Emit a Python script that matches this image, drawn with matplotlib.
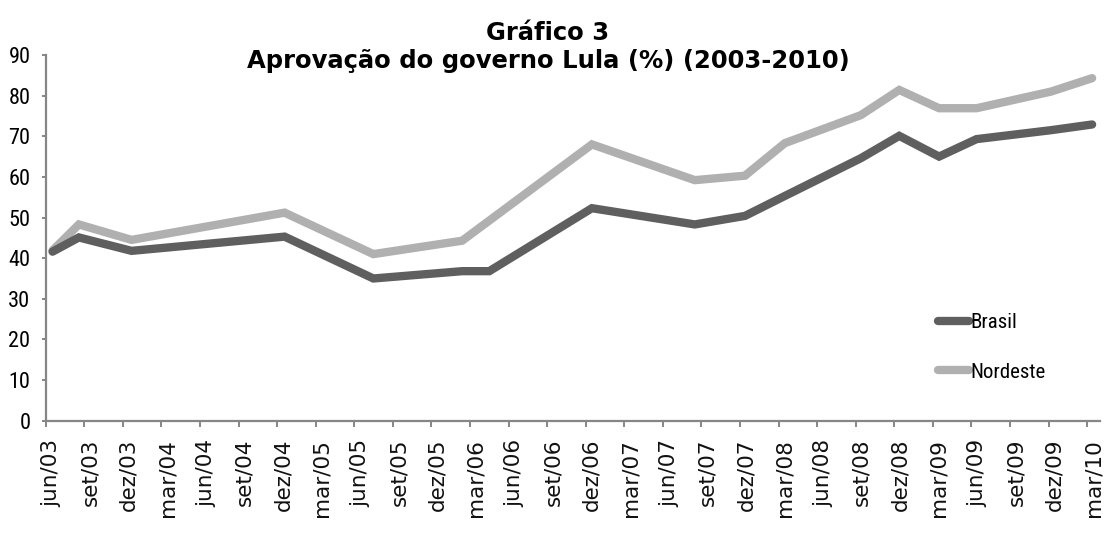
import os
import calendar
import numpy as np
import matplotlib
matplotlib.use("Agg")
import matplotlib.pyplot as plt
from matplotlib import font_manager
from matplotlib.font_manager import FontProperties
from matplotlib.transforms import ScaledTranslation

# ---- data ----
survey_dates = ["2003-06-17", "2003-08-19", "2003-12-22", "2004-12-19", "2005-07-16",
                "2006-02-12", "2006-04-16", "2006-12-16", "2007-08-16", "2007-12-13",
                "2008-03-16", "2008-09-13", "2008-12-13", "2009-03-16", "2009-06-13",
                "2009-12-07", "2010-03-13"]
brasil = [41.6, 45.1, 41.8, 45.3, 35.0, 36.8, 36.8, 52.3, 48.3, 50.4,
          55.3, 64.6, 70.1, 65.0, 69.3, 71.5, 72.9]
nordeste = [41.9, 48.3, 44.5, 51.2, 41.0, 44.3, np.nan, 68.0, 59.2, 60.3,
            68.3, 75.2, 81.4, 76.9, 76.9, 81.0, 84.3]
tick_labels = ["jun/03", "set/03", "dez/03", "mar/04", "jun/04", "set/04", "dez/04",
               "mar/05", "jun/05", "set/05", "dez/05", "mar/06", "jun/06", "set/06",
               "dez/06", "mar/07", "jun/07", "set/07", "dez/07", "mar/08", "jun/08",
               "set/08", "dez/08", "mar/09", "jun/09", "set/09", "dez/09", "mar/10"]
series_names = ["Brasil", "Nordeste"]
title_lines = ["Gráfico 3", "Aprovação do governo Lula (%) (2003-2010)"]


def month_pos(s, y0=2003, m0=6):
    y, m, d = map(int, s.split("-"))
    nd = calendar.monthrange(y, m)[1]
    return (y - y0) * 12 + (m - m0) + (d - 1) / nd


available = {f.name for f in font_manager.fontManager.ttflist}
narrow_candidates = ["Liberation Sans Narrow", "Roboto Condensed",
                     "Open Sans Condensed", "Noto Sans Condensed", "Liberation Sans"]
narrow = next((c for c in narrow_candidates if c in available), "DejaVu Sans")

fp_y = FontProperties(family=[narrow, "DejaVu Sans"], size=16, stretch="condensed")
fp_leg = FontProperties(family=[narrow, "DejaVu Sans"], size=15, stretch="condensed")
dejavu_regular = os.path.join(matplotlib.get_data_path(), "fonts", "ttf", "DejaVuSans.ttf")
fp_x = FontProperties(fname=dejavu_regular, size=15.5)
dejavu_bold = os.path.join(matplotlib.get_data_path(), "fonts", "ttf", "DejaVuSans-Bold.ttf")
fp_title = FontProperties(fname=dejavu_bold, size=17.5)

x = np.array([month_pos(s) for s in survey_dates])
b = np.array(brasil, dtype=float)
n = np.array(nordeste, dtype=float)

fig = plt.figure(figsize=(11.05, 5.35), dpi=100)
ax = fig.add_axes([45.7 / 1105, (535 - 420.7) / 535, (1100 - 45.7) / 1105, 365.7 / 535])

lw = 6.0
ax.plot(x, b, color="#5f5f5f", lw=lw, solid_capstyle="round", solid_joinstyle="miter",
        label=series_names[0], zorder=3)
mask = ~np.isnan(n)
ax.plot(x[mask], n[mask], color="#b0b0b0", lw=lw, solid_capstyle="round",
        solid_joinstyle="miter", label=series_names[1], zorder=2)

ax.set_xlim(0, len(tick_labels) * 3 - 2)
ax.set_ylim(0, 90)
ax.set_yticks(np.arange(0, 91, 10))
ticks = np.arange(len(tick_labels)) * 3
ax.set_xticks(ticks)
ax.set_xticklabels(tick_labels, rotation=90, va="top", ha="center", color="#111111",
                   fontproperties=fp_x)
ax.set_yticklabels([str(v) for v in range(0, 91, 10)], fontproperties=fp_y)

for s in ["top", "right"]:
    ax.spines[s].set_visible(False)
for s in ["left", "bottom"]:
    ax.spines[s].set_color("#868686")
    ax.spines[s].set_linewidth(1.6)
ax.tick_params(axis="y", direction="out", length=3, width=1.4, color="#868686", pad=8)
ax.tick_params(axis="x", direction="out", length=4, width=1.4, color="#868686", pad=9)

# shift x labels slightly right like the reference
off = ScaledTranslation(6 / 100, 0, fig.dpi_scale_trans)
for lab in ax.get_xticklabels():
    lab.set_transform(lab.get_transform() + off)

leg = ax.legend(loc="upper left", bbox_to_anchor=(930 / 1105, (535 - 305) / 535),
                bbox_transform=fig.transFigure, frameon=False, handlelength=1.45,
                handletextpad=0.1, labelspacing=1.45, borderaxespad=0, prop=fp_leg)
for h in leg.get_lines():
    h.set_solid_capstyle("round")

fig.text(548 / 1105, (535 - 33) / 535, title_lines[0], ha="center", va="center",
         fontproperties=fp_title)
fig.text(548 / 1105, (535 - 61) / 535, title_lines[1], ha="center", va="center",
         fontproperties=fp_title)

fig.savefig("out.png", dpi=100)
